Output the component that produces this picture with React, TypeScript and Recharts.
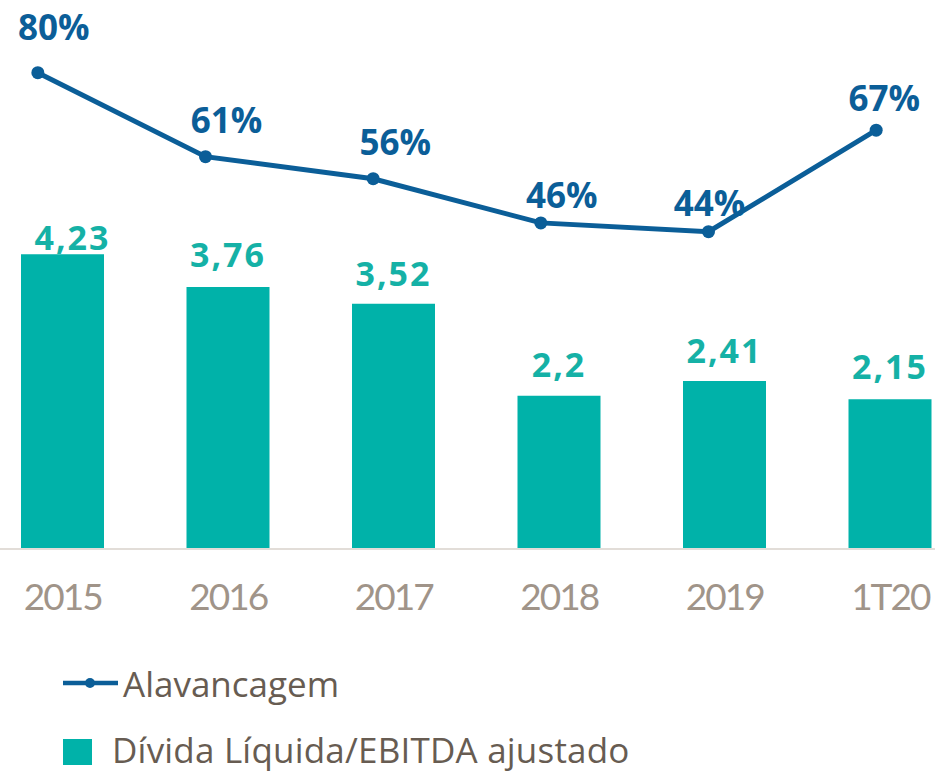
import React from "react";
import { Bar, ComposedChart, LabelList, Legend, Line, XAxis, YAxis } from "recharts";

const PERIODS = ["2015", "2016", "2017", "2018", "2019", "1T20"];
const LEVERAGE = [80, 61, 56, 46, 44, 67];
const DEBT_EBITDA = [4.23, 3.76, 3.52, 2.2, 2.41, 2.15];

const LINE_NAME = "Alavancagem";
const BAR_NAME = "Dívida Líquida/EBITDA ajustado";

const BLUE = "#0b5e98";
const TEAL = "#00b2a9";
const TEAL_TEXT = "#15b1a6";
const TICK_GREY = "#a09489";
const LEGEND_GREY = "#675c52";

// hand nudges for the value labels, [dx, dy]
const PCT_NUDGE = [[16, -33], [21, -24], [22, -24], [21, -15], [1, -16], [8, -19]];
const RATIO_NUDGE = [[10, -4], [0, -20], [0, -18], [0, -19], [0, -18], [0, -20]];

const SHIFT = 60; // chart is pushed left so the first band is clipped like the source slide

const data = PERIODS.map((period, i) => ({
  period,
  leverage: LEVERAGE[i],
  ratio: DEBT_EBITDA[i],
}));

function PctLabel(props: any) {
  const { x, y, value, index } = props;
  const [dx, dy] = PCT_NUDGE[index] || [0, -20];
  return (
    <text
      x={x + dx}
      y={y + dy}
      textAnchor="middle"
      fill={BLUE}
      fontFamily="Open Sans"
      fontWeight={700}
      fontSize={35}
    >
      {`${value}%`}
    </text>
  );
}

function RatioLabel(props: any) {
  const { x, y, width, value, index } = props;
  const [dx, dy] = RATIO_NUDGE[index] || [0, -18];
  return (
    <text
      x={x + width / 2 + dx}
      y={y + dy}
      textAnchor="middle"
      fill={TEAL_TEXT}
      fontFamily="Open Sans"
      fontWeight={700}
      fontSize={34}
      letterSpacing={2}
    >
      {String(value).replace(".", ",")}
    </text>
  );
}

function PeriodTick(props: any) {
  const { x, y, payload } = props;
  return (
    <text
      x={x}
      y={y + 61}
      textAnchor="middle"
      fill={TICK_GREY}
      fontFamily="Lato"
      fontSize={37}
      letterSpacing={-2}
    >
      {payload.value}
    </text>
  );
}

function LineDot(props: any) {
  const { cx, cy, index } = props;
  if (cx == null || cy == null) return null;
  return <circle key={`dot-${index}`} cx={cx} cy={cy} r={6.5} fill={BLUE} />;
}

function LegendBox() {
  return (
    <svg width={935} height={122} style={{ display: "block" }}>
      <line x1={63} x2={118} y1={33} y2={33} stroke={BLUE} strokeWidth={4.5} />
      <circle cx={90} cy={33} r={5} fill={BLUE} />
      <text x={123} y={47} fill={LEGEND_GREY} fontFamily="Open Sans" fontSize={35}>
        {LINE_NAME}
      </text>
      <rect x={63} y={89} width={29} height={26} fill={TEAL} />
      <text x={112} y={113} fill={LEGEND_GREY} fontFamily="Open Sans" fontSize={35} letterSpacing={0.2}>
        {BAR_NAME}
      </text>
    </svg>
  );
}

export default function App() {
  return (
    <div
      style={{
        position: "fixed",
        left: 0,
        top: 0,
        width: 935,
        height: 772,
        overflow: "hidden",
        background: "#fff",
      }}
    >
      <div style={{ marginLeft: -SHIFT }}>
        <ComposedChart
          width={1060}
          height={772}
          data={data}
          margin={{ top: 0, right: 0, left: 0, bottom: 143 }}
        >
          <XAxis
            xAxisId="bars"
            dataKey="period"
            padding={{ left: 40, right: 27 }}
            height={80}
            tickLine={false}
            tickSize={0}
            tickMargin={0}
            axisLine={{ stroke: "#e2ddd8", strokeWidth: 2 }}
            tick={<PeriodTick />}
            interval={0}
          />
          <XAxis xAxisId="line" dataKey="period" padding={{ left: 14, right: 40 }} hide />
          <YAxis yAxisId="ratio" domain={[0, 7.877]} hide />
          <YAxis yAxisId="pct" domain={[-27.83, 96.46]} hide />
          <Bar
            xAxisId="bars"
            yAxisId="ratio"
            dataKey="ratio"
            name={BAR_NAME}
            fill={TEAL}
            barSize={83}
            isAnimationActive={false}
          >
            <LabelList dataKey="ratio" content={<RatioLabel />} />
          </Bar>
          <Line
            xAxisId="line"
            yAxisId="pct"
            dataKey="leverage"
            name={LINE_NAME}
            stroke={BLUE}
            strokeWidth={5}
            dot={LineDot}
            activeDot={false}
            isAnimationActive={false}
          >
            <LabelList dataKey="leverage" content={<PctLabel />} />
          </Line>
          <Legend
            layout="vertical"
            align="center"
            verticalAlign="middle"
            wrapperStyle={{ left: SHIFT, top: 650, width: 935 }}
            content={<LegendBox />}
          />
        </ComposedChart>
      </div>
    </div>
  );
}
